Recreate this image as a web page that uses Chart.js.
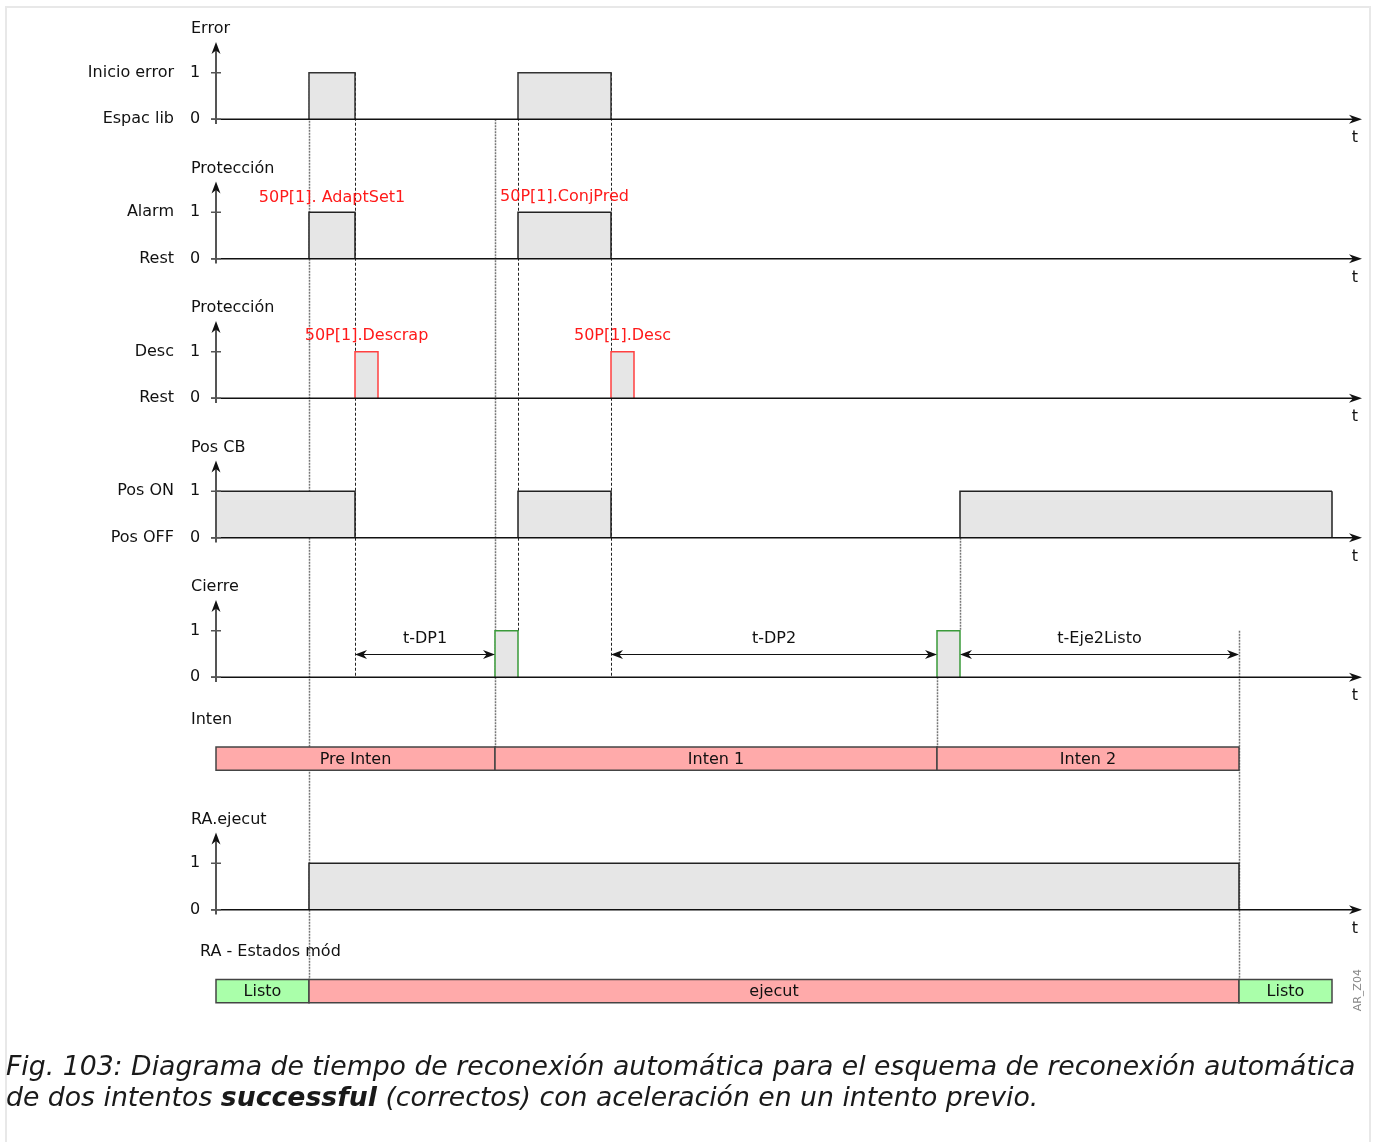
<!DOCTYPE html>
<html>
<head>
<meta charset="utf-8">
<script src="https://cdn.jsdelivr.net/npm/chart.js@4.4.0/dist/chart.umd.min.js"></script>
<style>
  html, body { margin: 0; padding: 0; background: #fff; overflow: hidden; }
  #frame { position: absolute; left: 5px; top: 6px; width: 1366px; height: 1170px; border: 2px solid #e8e8e8; box-sizing: border-box; }
  #wrap { position: absolute; left: 0; top: 0; width: 1377px; height: 1142px; }
  #caption { position: absolute; left: 6px; top: 1050px; font: italic 26.7px 'DejaVu Sans', sans-serif; line-height: 31px; color: #1a1a1a; white-space: nowrap; }
  #caption b { font-weight: bold; }
</style>
</head>
<body>
<div id="frame"></div>
<div id="wrap"><canvas id="timing"></canvas></div>
<div id="caption">Fig. 103: Diagrama de tiempo de reconexión automática para el esquema de reconexión automática<br>de dos intentos <b>successful</b> (correctos) con aceleración en un intento previo.</div>
<script>
// signals (time axis in ms-like units)
const panelTitles = ['Error', 'Protección', 'Protección', 'Pos CB', 'Cierre', 'RA.ejecut'];
const highLabels = ['Inicio error', 'Alarm', 'Desc', 'Pos ON', '', ''];
const lowLabels = ['Espac lib', 'Rest', 'Rest', 'Pos OFF', '', ''];
const levelTicks = ['0', '1'];

const errorPulses = [[93, 139], [302, 395]];
const alarmPulses = [[93, 139], [302, 395]];
const descPulses = [[139, 162], [395, 418]];
const posCbPulses = [[0, 139], [302, 395], [744, 1116]];
const cierrePulses = [[279, 302], [721, 744]];
const raEjecutPulses = [[93, 1023]];
const pulseSeries = [errorPulses, alarmPulses, descPulses, posCbPulses, cierrePulses, raEjecutPulses];

const pulseNames = ['50P[1]. AdaptSet1', '50P[1].ConjPred', '50P[1].Descrap', '50P[1].Desc'];

const intenTitle = 'Inten';
const intenStates = ['Pre Inten', 'Inten 1', 'Inten 2'];
const intenEdges = [0, 279, 721, 1023];

const modTitle = 'RA - Estados mód';
const modStates = ['Listo', 'ejecut', 'Listo'];
const modEdges = [0, 93, 1023, 1116];

const delayNames = ['t-DP1', 't-DP2', 't-Eje2Listo'];
const delaySpans = [[139, 279], [395, 721], [744, 1023]];

// layout (y in "level" units, 1 level = one signal step)
const panelBase = [0, -3, -6, -9, -12, -17];
const pulseBorder = ['#333', '#222', '#ff4040', '#222', '#3a9a3a', '#222'];
const intenBar = [-13.5, -14];
const modBar = [-18.5, -19];
const tEnd = 1146;

// guide lines: time, from y, to y, dark?
const guides = [
  [93, 1, -18.5, false],
  [139, 1, -12, true],
  [279, 0, -14, false],
  [302, 1, -11, true],
  [395, 1, -12, true],
  [721, -12, -13.5, false],
  [744, -9, -11, false],
  [1023, -11, -18.5, false]
];
const nameLabels = [[116, -3 + 1.31], [348.5, -3 + 1.33], [150.5, -6 + 1.35], [406.5, -6 + 1.35]];

const FONT = "16px 'DejaVu Sans', sans-serif";

const datasets = [];
pulseSeries.forEach((pulses, i) => {
  const b = panelBase[i];
  pulses.forEach((p, j) => {
    const openEnd = (i === 3 && j === pulses.length - 1);
    datasets.push({
      data: [{x: p[0], y: b}, {x: p[0], y: b + 1}, {x: p[1], y: b + 1}, {x: p[1], y: b}],
      borderColor: pulseBorder[i],
      backgroundColor: '#e6e6e6',
      borderWidth: 1.5,
      fill: {value: b},
      pointRadius: 0,
      tension: 0,
      segment: {
        borderDash: c => (openEnd && c.p0DataIndex === 2) ? [4, 2] : undefined
      }
    });
  });
});

function stateBar(ctx, x, y, edges, states, colors, yr) {
  const top = y.getPixelForValue(yr[0]);
  const bot = y.getPixelForValue(yr[1]);
  ctx.font = FONT;
  ctx.textAlign = 'center';
  ctx.textBaseline = 'middle';
  states.forEach((s, k) => {
    const a = x.getPixelForValue(edges[k]);
    const b = x.getPixelForValue(edges[k + 1]);
    ctx.fillStyle = colors[k];
    ctx.fillRect(a, top, b - a, bot - top);
    ctx.strokeStyle = '#444';
    ctx.lineWidth = 1.5;
    ctx.setLineDash([]);
    ctx.strokeRect(a, top, b - a, bot - top);
    ctx.fillStyle = '#111';
    ctx.fillText(s, (a + b) / 2, (top + bot) / 2 + 1);
  });
}

function arrowHead(ctx, px, py, dir, len, half) {
  ctx.beginPath();
  if (dir === 'right' || dir === 'left') {
    const s = dir === 'right' ? -1 : 1;
    ctx.moveTo(px, py);
    ctx.lineTo(px + s * len, py - half);
    ctx.lineTo(px + s * len * 0.7, py);
    ctx.lineTo(px + s * len, py + half);
  } else {
    ctx.moveTo(px, py);
    ctx.lineTo(px - half, py + len);
    ctx.lineTo(px, py + len * 0.7);
    ctx.lineTo(px + half, py + len);
  }
  ctx.closePath();
  ctx.fill();
}

const timingPlugin = {
  id: 'timing',
  beforeDatasetsDraw(chart) {
    const {ctx, scales: {x, y}} = chart;
    ctx.save();
    guides.forEach(g => {
      const px = Math.round(x.getPixelForValue(g[0])) + 0.5;
      ctx.strokeStyle = g[3] ? '#222' : '#777';
      ctx.lineWidth = g[3] ? 1 : 1.5;
      ctx.setLineDash(g[3] ? [3, 2] : [2, 1]);
      ctx.beginPath();
      ctx.moveTo(px, y.getPixelForValue(g[1]));
      ctx.lineTo(px, y.getPixelForValue(g[2]));
      ctx.stroke();
    });
    ctx.restore();
  },
  afterDatasetsDraw(chart) {
    const {ctx, scales: {x, y}} = chart;
    ctx.save();
    const x0 = x.getPixelForValue(0);
    const xe = x.getPixelForValue(tEnd);
    panelBase.forEach((b, i) => {
      const yb = y.getPixelForValue(b);
      const y1 = y.getPixelForValue(b + 1);
      // time axis
      ctx.setLineDash([]);
      ctx.strokeStyle = '#111';
      ctx.lineWidth = 1.5;
      ctx.beginPath();
      ctx.moveTo(x0 - 5, yb);
      ctx.lineTo(xe - 6, yb);
      ctx.stroke();
      ctx.fillStyle = '#111';
      arrowHead(ctx, xe, yb, 'right', 13, 4.5);
      // level axis
      const top = y.getPixelForValue(b + 1.66);
      ctx.strokeStyle = '#555';
      ctx.lineWidth = 2;
      ctx.beginPath();
      ctx.moveTo(x0, y.getPixelForValue(b - 0.1));
      ctx.lineTo(x0, top + 6);
      ctx.stroke();
      arrowHead(ctx, x0, top, 'up', 12, 4.5);
      ctx.lineWidth = 1.5;
      [yb, y1].forEach(py => {
        ctx.beginPath();
        ctx.moveTo(x0 - 5, py);
        ctx.lineTo(x0 + 5, py);
        ctx.stroke();
      });
      // texts
      ctx.font = FONT;
      ctx.fillStyle = '#111';
      ctx.textBaseline = 'middle';
      ctx.textAlign = 'center';
      ctx.fillText(levelTicks[0], x0 - 21, yb);
      ctx.fillText(levelTicks[1], x0 - 21, y1);
      ctx.fillText('t', x.getPixelForValue(1139), y.getPixelForValue(b - 0.41));
      ctx.textAlign = 'right';
      ctx.fillText(lowLabels[i], x0 - 42, yb);
      ctx.fillText(highLabels[i], x0 - 42, y1);
      ctx.textAlign = 'left';
      ctx.fillText(panelTitles[i], x0 - 25, y.getPixelForValue(b + 1.94));
    });

    // red pulse names
    ctx.fillStyle = '#ff1a1a';
    ctx.textAlign = 'center';
    pulseNames.forEach((n, k) => {
      ctx.fillText(n, x.getPixelForValue(nameLabels[k][0]), y.getPixelForValue(nameLabels[k][1]));
    });

    // delay dimension arrows in Cierre panel
    const cb = panelBase[4];
    delaySpans.forEach((s, k) => {
      const a = x.getPixelForValue(s[0]);
      const e = x.getPixelForValue(s[1]);
      const py = Math.round(y.getPixelForValue(cb + 0.5)) + 0.5;
      ctx.strokeStyle = '#111';
      ctx.lineWidth = 1;
      ctx.beginPath();
      ctx.moveTo(a + 4, py);
      ctx.lineTo(e - 4, py);
      ctx.stroke();
      ctx.fillStyle = '#111';
      arrowHead(ctx, a, py, 'left', 12, 4.5);
      arrowHead(ctx, e, py, 'right', 12, 4.5);
      ctx.textAlign = 'center';
      ctx.fillText(delayNames[k], (a + e) / 2, y.getPixelForValue(cb + 0.82));
    });

    // state bars
    ctx.textAlign = 'left';
    ctx.fillStyle = '#111';
    ctx.fillText(intenTitle, x0 - 25, y.getPixelForValue(-12.92));
    ctx.fillText(modTitle, x0 - 16, y.getPixelForValue(-17.91));
    stateBar(ctx, x, y, intenEdges, intenStates, ['#ffaaaa', '#ffaaaa', '#ffaaaa'], intenBar);
    stateBar(ctx, x, y, modEdges, modStates, ['#aaffaa', '#ffaaaa', '#aaffaa'], modBar);

    // figure id
    ctx.save();
    ctx.translate(x.getPixelForValue(1142), y.getPixelForValue(-18.73));
    ctx.rotate(-Math.PI / 2);
    ctx.font = "11px 'DejaVu Sans', sans-serif";
    ctx.fillStyle = '#888';
    ctx.textAlign = 'center';
    ctx.fillText('AR_Z04', 0, 0);
    ctx.restore();
    ctx.restore();
  }
};

new Chart(document.getElementById('timing').getContext('2d'), {
  type: 'line',
  data: {datasets: datasets},
  options: {
    responsive: true,
    maintainAspectRatio: false,
    animation: false,
    layout: {padding: {left: 216, right: 11, top: 3, bottom: 23}},
    plugins: {legend: {display: false}, tooltip: {enabled: false}},
    scales: {
      x: {type: 'linear', min: 0, max: 1150, display: false},
      y: {type: 'linear', min: -21.5, max: 2.5, display: false}
    }
  },
  plugins: [timingPlugin]
});
</script>
</body>
</html>
